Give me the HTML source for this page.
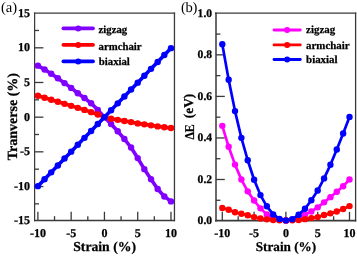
<!DOCTYPE html>
<html><head><meta charset="utf-8"><style>svg text{font-family:"Liberation Serif",serif;text-rendering:geometricPrecision;stroke:#000;stroke-width:0.25px}html,body{margin:0;padding:0;background:#fff}</style></head><body><svg width="357" height="257" viewBox="0 0 357 257" style="display:block;will-change:transform">
<rect width="357" height="257" fill="#fff"/>
<line x1="34.60" y1="12.55" x2="34.60" y2="221.25" stroke="#3a3a3a" stroke-width="1.25"/><line x1="174.45" y1="12.55" x2="174.45" y2="221.25" stroke="#3a3a3a" stroke-width="1.3"/><line x1="33.98" y1="13.20" x2="175.10" y2="13.20" stroke="#3a3a3a" stroke-width="1.3"/><line x1="33.98" y1="220.55" x2="175.10" y2="220.55" stroke="#3a3a3a" stroke-width="1.4"/><line x1="37.90" y1="220.55" x2="37.90" y2="211.75" stroke="#3a3a3a" stroke-width="1.3"/><line x1="71.17" y1="220.55" x2="71.17" y2="211.75" stroke="#3a3a3a" stroke-width="1.3"/><line x1="104.44" y1="220.55" x2="104.44" y2="211.75" stroke="#3a3a3a" stroke-width="1.3"/><line x1="137.71" y1="220.55" x2="137.71" y2="211.75" stroke="#3a3a3a" stroke-width="1.3"/><line x1="170.98" y1="220.55" x2="170.98" y2="211.75" stroke="#3a3a3a" stroke-width="1.3"/><line x1="54.53" y1="220.55" x2="54.53" y2="216.15" stroke="#3a3a3a" stroke-width="1.3"/><line x1="87.81" y1="220.55" x2="87.81" y2="216.15" stroke="#3a3a3a" stroke-width="1.3"/><line x1="121.07" y1="220.55" x2="121.07" y2="216.15" stroke="#3a3a3a" stroke-width="1.3"/><line x1="154.34" y1="220.55" x2="154.34" y2="216.15" stroke="#3a3a3a" stroke-width="1.3"/><line x1="34.60" y1="47.81" x2="43.40" y2="47.81" stroke="#3a3a3a" stroke-width="1.3"/><line x1="34.60" y1="82.48" x2="43.40" y2="82.48" stroke="#3a3a3a" stroke-width="1.3"/><line x1="34.60" y1="117.16" x2="43.40" y2="117.16" stroke="#3a3a3a" stroke-width="1.3"/><line x1="34.60" y1="151.83" x2="43.40" y2="151.83" stroke="#3a3a3a" stroke-width="1.3"/><line x1="34.60" y1="186.51" x2="43.40" y2="186.51" stroke="#3a3a3a" stroke-width="1.3"/><line x1="34.60" y1="30.47" x2="39.00" y2="30.47" stroke="#3a3a3a" stroke-width="1.3"/><line x1="34.60" y1="65.15" x2="39.00" y2="65.15" stroke="#3a3a3a" stroke-width="1.3"/><line x1="34.60" y1="99.82" x2="39.00" y2="99.82" stroke="#3a3a3a" stroke-width="1.3"/><line x1="34.60" y1="134.50" x2="39.00" y2="134.50" stroke="#3a3a3a" stroke-width="1.3"/><line x1="34.60" y1="169.17" x2="39.00" y2="169.17" stroke="#3a3a3a" stroke-width="1.3"/><line x1="34.60" y1="203.85" x2="39.00" y2="203.85" stroke="#3a3a3a" stroke-width="1.3"/>
<line x1="216.00" y1="12.55" x2="216.00" y2="221.50" stroke="#6a6a6a" stroke-width="2.0"/><line x1="355.60" y1="12.55" x2="355.60" y2="221.50" stroke="#3a3a3a" stroke-width="1.3"/><line x1="215.00" y1="13.20" x2="356.25" y2="13.20" stroke="#3a3a3a" stroke-width="1.3"/><line x1="215.00" y1="220.65" x2="356.25" y2="220.65" stroke="#3a3a3a" stroke-width="1.7"/><line x1="222.30" y1="220.65" x2="222.30" y2="211.85" stroke="#3a3a3a" stroke-width="1.3"/><line x1="254.10" y1="220.65" x2="254.10" y2="211.85" stroke="#3a3a3a" stroke-width="1.3"/><line x1="285.90" y1="220.65" x2="285.90" y2="211.85" stroke="#3a3a3a" stroke-width="1.3"/><line x1="317.70" y1="220.65" x2="317.70" y2="211.85" stroke="#3a3a3a" stroke-width="1.3"/><line x1="349.50" y1="220.65" x2="349.50" y2="211.85" stroke="#3a3a3a" stroke-width="1.3"/><line x1="238.20" y1="220.65" x2="238.20" y2="216.25" stroke="#3a3a3a" stroke-width="1.3"/><line x1="270.00" y1="220.65" x2="270.00" y2="216.25" stroke="#3a3a3a" stroke-width="1.3"/><line x1="301.80" y1="220.65" x2="301.80" y2="216.25" stroke="#3a3a3a" stroke-width="1.3"/><line x1="333.60" y1="220.65" x2="333.60" y2="216.25" stroke="#3a3a3a" stroke-width="1.3"/><line x1="216.00" y1="54.85" x2="224.80" y2="54.85" stroke="#3a3a3a" stroke-width="1.3"/><line x1="216.00" y1="96.40" x2="224.80" y2="96.40" stroke="#3a3a3a" stroke-width="1.3"/><line x1="216.00" y1="137.95" x2="224.80" y2="137.95" stroke="#3a3a3a" stroke-width="1.3"/><line x1="216.00" y1="179.50" x2="224.80" y2="179.50" stroke="#3a3a3a" stroke-width="1.3"/><line x1="216.00" y1="34.08" x2="220.40" y2="34.08" stroke="#3a3a3a" stroke-width="1.3"/><line x1="216.00" y1="75.63" x2="220.40" y2="75.63" stroke="#3a3a3a" stroke-width="1.3"/><line x1="216.00" y1="117.18" x2="220.40" y2="117.18" stroke="#3a3a3a" stroke-width="1.3"/><line x1="216.00" y1="158.73" x2="220.40" y2="158.73" stroke="#3a3a3a" stroke-width="1.3"/><line x1="216.00" y1="200.28" x2="220.40" y2="200.28" stroke="#3a3a3a" stroke-width="1.3"/>
<polyline points="37.90,65.63 44.55,69.45 51.21,73.75 57.86,78.19 64.52,83.11 71.17,87.89 77.82,93.23 84.48,98.02 91.13,103.29 97.79,109.88 104.44,117.16 111.09,123.96 117.75,131.31 124.40,139.01 131.06,147.54 137.71,158.08 144.36,169.17 151.02,179.16 157.67,189.01 164.33,196.43 170.98,201.42" fill="none" stroke="#8000ff" stroke-width="3.6" stroke-linejoin="round"/>
<circle cx="37.90" cy="65.63" r="3.2" fill="#8000ff"/><circle cx="44.55" cy="69.45" r="3.2" fill="#8000ff"/><circle cx="51.21" cy="73.75" r="3.2" fill="#8000ff"/><circle cx="57.86" cy="78.19" r="3.2" fill="#8000ff"/><circle cx="64.52" cy="83.11" r="3.2" fill="#8000ff"/><circle cx="71.17" cy="87.89" r="3.2" fill="#8000ff"/><circle cx="77.82" cy="93.23" r="3.2" fill="#8000ff"/><circle cx="84.48" cy="98.02" r="3.2" fill="#8000ff"/><circle cx="91.13" cy="103.29" r="3.2" fill="#8000ff"/><circle cx="97.79" cy="109.88" r="3.2" fill="#8000ff"/><circle cx="104.44" cy="117.16" r="3.2" fill="#8000ff"/><circle cx="111.09" cy="123.96" r="3.2" fill="#8000ff"/><circle cx="117.75" cy="131.31" r="3.2" fill="#8000ff"/><circle cx="124.40" cy="139.01" r="3.2" fill="#8000ff"/><circle cx="131.06" cy="147.54" r="3.2" fill="#8000ff"/><circle cx="137.71" cy="158.08" r="3.2" fill="#8000ff"/><circle cx="144.36" cy="169.17" r="3.2" fill="#8000ff"/><circle cx="151.02" cy="179.16" r="3.2" fill="#8000ff"/><circle cx="157.67" cy="189.01" r="3.2" fill="#8000ff"/><circle cx="164.33" cy="196.43" r="3.2" fill="#8000ff"/><circle cx="170.98" cy="201.42" r="3.2" fill="#8000ff"/>

<polyline points="37.90,95.73 44.55,97.74 51.21,99.75 57.86,101.76 64.52,103.84 71.17,105.86 77.82,107.87 84.48,109.88 91.13,112.17 97.79,114.52 104.44,117.16 111.09,118.69 117.75,119.86 124.40,121.04 131.06,122.08 137.71,123.40 144.36,124.37 151.02,125.34 157.67,126.38 164.33,127.22 170.98,127.98" fill="none" stroke="#ff0000" stroke-width="3.6" stroke-linejoin="round"/>
<circle cx="37.90" cy="95.73" r="3.2" fill="#ff0000"/><circle cx="44.55" cy="97.74" r="3.2" fill="#ff0000"/><circle cx="51.21" cy="99.75" r="3.2" fill="#ff0000"/><circle cx="57.86" cy="101.76" r="3.2" fill="#ff0000"/><circle cx="64.52" cy="103.84" r="3.2" fill="#ff0000"/><circle cx="71.17" cy="105.86" r="3.2" fill="#ff0000"/><circle cx="77.82" cy="107.87" r="3.2" fill="#ff0000"/><circle cx="84.48" cy="109.88" r="3.2" fill="#ff0000"/><circle cx="91.13" cy="112.17" r="3.2" fill="#ff0000"/><circle cx="97.79" cy="114.52" r="3.2" fill="#ff0000"/><circle cx="104.44" cy="117.16" r="3.2" fill="#ff0000"/><circle cx="111.09" cy="118.69" r="3.2" fill="#ff0000"/><circle cx="117.75" cy="119.86" r="3.2" fill="#ff0000"/><circle cx="124.40" cy="121.04" r="3.2" fill="#ff0000"/><circle cx="131.06" cy="122.08" r="3.2" fill="#ff0000"/><circle cx="137.71" cy="123.40" r="3.2" fill="#ff0000"/><circle cx="144.36" cy="124.37" r="3.2" fill="#ff0000"/><circle cx="151.02" cy="125.34" r="3.2" fill="#ff0000"/><circle cx="157.67" cy="126.38" r="3.2" fill="#ff0000"/><circle cx="164.33" cy="127.22" r="3.2" fill="#ff0000"/><circle cx="170.98" cy="127.98" r="3.2" fill="#ff0000"/>

<polyline points="37.90,186.16 44.55,179.26 51.21,172.36 57.86,165.46 64.52,158.56 71.17,151.66 77.82,144.76 84.48,137.86 91.13,130.96 97.79,124.06 104.44,117.16 111.09,110.26 117.75,103.36 124.40,96.46 131.06,89.56 137.71,82.66 144.36,75.76 151.02,68.86 157.67,61.96 164.33,55.06 170.98,48.16" fill="none" stroke="#0000ff" stroke-width="3.6" stroke-linejoin="round"/>
<circle cx="37.90" cy="186.16" r="3.2" fill="#0000ff"/><circle cx="44.55" cy="179.26" r="3.2" fill="#0000ff"/><circle cx="51.21" cy="172.36" r="3.2" fill="#0000ff"/><circle cx="57.86" cy="165.46" r="3.2" fill="#0000ff"/><circle cx="64.52" cy="158.56" r="3.2" fill="#0000ff"/><circle cx="71.17" cy="151.66" r="3.2" fill="#0000ff"/><circle cx="77.82" cy="144.76" r="3.2" fill="#0000ff"/><circle cx="84.48" cy="137.86" r="3.2" fill="#0000ff"/><circle cx="91.13" cy="130.96" r="3.2" fill="#0000ff"/><circle cx="97.79" cy="124.06" r="3.2" fill="#0000ff"/><circle cx="104.44" cy="117.16" r="3.2" fill="#0000ff"/><circle cx="111.09" cy="110.26" r="3.2" fill="#0000ff"/><circle cx="117.75" cy="103.36" r="3.2" fill="#0000ff"/><circle cx="124.40" cy="96.46" r="3.2" fill="#0000ff"/><circle cx="131.06" cy="89.56" r="3.2" fill="#0000ff"/><circle cx="137.71" cy="82.66" r="3.2" fill="#0000ff"/><circle cx="144.36" cy="75.76" r="3.2" fill="#0000ff"/><circle cx="151.02" cy="68.86" r="3.2" fill="#0000ff"/><circle cx="157.67" cy="61.96" r="3.2" fill="#0000ff"/><circle cx="164.33" cy="55.06" r="3.2" fill="#0000ff"/><circle cx="170.98" cy="48.16" r="3.2" fill="#0000ff"/>

<polyline points="222.30,125.83 228.66,146.77 235.02,164.61 241.38,179.54 247.74,191.36 254.10,200.49 260.46,208.37 266.82,214.39 273.18,217.70 279.54,219.78 285.90,220.40 292.26,219.78 298.62,217.91 304.98,214.80 311.34,211.48 317.70,207.33 324.06,202.36 330.42,197.17 336.78,191.78 343.14,186.18 349.50,179.54" fill="none" stroke="#ff00ff" stroke-width="2.7" stroke-linejoin="round"/>
<circle cx="222.30" cy="125.83" r="3.2" fill="#ff00ff"/><circle cx="228.66" cy="146.77" r="3.2" fill="#ff00ff"/><circle cx="235.02" cy="164.61" r="3.2" fill="#ff00ff"/><circle cx="241.38" cy="179.54" r="3.2" fill="#ff00ff"/><circle cx="247.74" cy="191.36" r="3.2" fill="#ff00ff"/><circle cx="254.10" cy="200.49" r="3.2" fill="#ff00ff"/><circle cx="260.46" cy="208.37" r="3.2" fill="#ff00ff"/><circle cx="266.82" cy="214.39" r="3.2" fill="#ff00ff"/><circle cx="273.18" cy="217.70" r="3.2" fill="#ff00ff"/><circle cx="279.54" cy="219.78" r="3.2" fill="#ff00ff"/><circle cx="285.90" cy="220.40" r="3.2" fill="#ff00ff"/><circle cx="292.26" cy="219.78" r="3.2" fill="#ff00ff"/><circle cx="298.62" cy="217.91" r="3.2" fill="#ff00ff"/><circle cx="304.98" cy="214.80" r="3.2" fill="#ff00ff"/><circle cx="311.34" cy="211.48" r="3.2" fill="#ff00ff"/><circle cx="317.70" cy="207.33" r="3.2" fill="#ff00ff"/><circle cx="324.06" cy="202.36" r="3.2" fill="#ff00ff"/><circle cx="330.42" cy="197.17" r="3.2" fill="#ff00ff"/><circle cx="336.78" cy="191.78" r="3.2" fill="#ff00ff"/><circle cx="343.14" cy="186.18" r="3.2" fill="#ff00ff"/><circle cx="349.50" cy="179.54" r="3.2" fill="#ff00ff"/>

<polyline points="222.30,207.96 228.66,209.82 235.02,212.31 241.38,213.76 247.74,215.22 254.10,217.08 260.46,218.53 266.82,219.36 273.18,219.99 279.54,220.30 285.90,220.40 292.26,220.30 298.62,220.09 304.98,219.16 311.34,218.12 317.70,217.08 324.06,215.01 330.42,213.35 336.78,211.48 343.14,208.99 349.50,206.09" fill="none" stroke="#ff0000" stroke-width="2.7" stroke-linejoin="round"/>
<circle cx="222.30" cy="207.96" r="3.2" fill="#ff0000"/><circle cx="228.66" cy="209.82" r="3.2" fill="#ff0000"/><circle cx="235.02" cy="212.31" r="3.2" fill="#ff0000"/><circle cx="241.38" cy="213.76" r="3.2" fill="#ff0000"/><circle cx="247.74" cy="215.22" r="3.2" fill="#ff0000"/><circle cx="254.10" cy="217.08" r="3.2" fill="#ff0000"/><circle cx="260.46" cy="218.53" r="3.2" fill="#ff0000"/><circle cx="266.82" cy="219.36" r="3.2" fill="#ff0000"/><circle cx="273.18" cy="219.99" r="3.2" fill="#ff0000"/><circle cx="279.54" cy="220.30" r="3.2" fill="#ff0000"/><circle cx="285.90" cy="220.40" r="3.2" fill="#ff0000"/><circle cx="292.26" cy="220.30" r="3.2" fill="#ff0000"/><circle cx="298.62" cy="220.09" r="3.2" fill="#ff0000"/><circle cx="304.98" cy="219.16" r="3.2" fill="#ff0000"/><circle cx="311.34" cy="218.12" r="3.2" fill="#ff0000"/><circle cx="317.70" cy="217.08" r="3.2" fill="#ff0000"/><circle cx="324.06" cy="215.01" r="3.2" fill="#ff0000"/><circle cx="330.42" cy="213.35" r="3.2" fill="#ff0000"/><circle cx="336.78" cy="211.48" r="3.2" fill="#ff0000"/><circle cx="343.14" cy="208.99" r="3.2" fill="#ff0000"/><circle cx="349.50" cy="206.09" r="3.2" fill="#ff0000"/>

<polyline points="222.30,44.32 228.66,79.78 235.02,111.10 241.38,137.85 247.74,160.25 254.10,179.75 260.46,195.10 266.82,206.30 273.18,214.39 279.54,218.89 285.90,220.40 292.26,219.16 298.62,214.80 304.98,208.79 311.34,200.28 317.70,190.53 324.06,178.40 330.42,164.82 336.78,149.47 343.14,133.50 349.50,116.91" fill="none" stroke="#0000ff" stroke-width="2.7" stroke-linejoin="round"/>
<circle cx="222.30" cy="44.32" r="3.2" fill="#0000ff"/><circle cx="228.66" cy="79.78" r="3.2" fill="#0000ff"/><circle cx="235.02" cy="111.10" r="3.2" fill="#0000ff"/><circle cx="241.38" cy="137.85" r="3.2" fill="#0000ff"/><circle cx="247.74" cy="160.25" r="3.2" fill="#0000ff"/><circle cx="254.10" cy="179.75" r="3.2" fill="#0000ff"/><circle cx="260.46" cy="195.10" r="3.2" fill="#0000ff"/><circle cx="266.82" cy="206.30" r="3.2" fill="#0000ff"/><circle cx="273.18" cy="214.39" r="3.2" fill="#0000ff"/><circle cx="279.54" cy="218.89" r="3.2" fill="#0000ff"/><circle cx="285.90" cy="220.40" r="3.2" fill="#0000ff"/><circle cx="292.26" cy="219.16" r="3.2" fill="#0000ff"/><circle cx="298.62" cy="214.80" r="3.2" fill="#0000ff"/><circle cx="304.98" cy="208.79" r="3.2" fill="#0000ff"/><circle cx="311.34" cy="200.28" r="3.2" fill="#0000ff"/><circle cx="317.70" cy="190.53" r="3.2" fill="#0000ff"/><circle cx="324.06" cy="178.40" r="3.2" fill="#0000ff"/><circle cx="330.42" cy="164.82" r="3.2" fill="#0000ff"/><circle cx="336.78" cy="149.47" r="3.2" fill="#0000ff"/><circle cx="343.14" cy="133.50" r="3.2" fill="#0000ff"/><circle cx="349.50" cy="116.91" r="3.2" fill="#0000ff"/>

<text x="30.10" y="16.64" font-size="12" font-weight="bold" text-anchor="end" fill="#000" >15</text>
<text x="30.10" y="51.31" font-size="12" font-weight="bold" text-anchor="end" fill="#000" >10</text>
<text x="30.10" y="85.98" font-size="12" font-weight="bold" text-anchor="end" fill="#000" >5</text>
<text x="30.10" y="120.66" font-size="12" font-weight="bold" text-anchor="end" fill="#000" >0</text>
<text x="30.10" y="155.33" font-size="12" font-weight="bold" text-anchor="end" fill="#000" >-5</text>
<text x="30.10" y="190.01" font-size="12" font-weight="bold" text-anchor="end" fill="#000" >-10</text>
<text x="30.10" y="223.70" font-size="12" font-weight="bold" text-anchor="end" fill="#000" >-15</text>
<text x="37.90" y="236.80" font-size="12" font-weight="bold" text-anchor="middle" fill="#000" >-10</text>
<text x="71.17" y="236.80" font-size="12" font-weight="bold" text-anchor="middle" fill="#000" >-5</text>
<text x="104.44" y="236.80" font-size="12" font-weight="bold" text-anchor="middle" fill="#000" >0</text>
<text x="137.71" y="236.80" font-size="12" font-weight="bold" text-anchor="middle" fill="#000" >5</text>
<text x="170.98" y="236.80" font-size="12" font-weight="bold" text-anchor="middle" fill="#000" >10</text>
<text x="104.60" y="250.60" font-size="13.7" font-weight="bold" text-anchor="middle" fill="#000" >Strain (%)</text>
<text x="17.00" y="116.60" font-size="14" font-weight="bold" text-anchor="middle" fill="#000" transform="rotate(-90 17.0 116.6)">Tranverse (%)</text>
<text x="0.90" y="11.60" font-size="14.6" font-weight="normal" text-anchor="start" fill="#000" style="stroke:none" textLength="16.2">(a)</text>
<text x="212.10" y="16.75" font-size="11.6" font-weight="bold" text-anchor="end" fill="#000" >1.0</text>
<text x="212.10" y="58.30" font-size="11.6" font-weight="bold" text-anchor="end" fill="#000" >0.8</text>
<text x="212.10" y="99.85" font-size="11.6" font-weight="bold" text-anchor="end" fill="#000" >0.6</text>
<text x="212.10" y="141.40" font-size="11.6" font-weight="bold" text-anchor="end" fill="#000" >0.4</text>
<text x="212.10" y="182.95" font-size="11.6" font-weight="bold" text-anchor="end" fill="#000" >0.2</text>
<text x="212.10" y="224.20" font-size="11.6" font-weight="bold" text-anchor="end" fill="#000" >0.0</text>
<text x="222.30" y="236.80" font-size="12" font-weight="bold" text-anchor="middle" fill="#000" >-10</text>
<text x="254.10" y="236.80" font-size="12" font-weight="bold" text-anchor="middle" fill="#000" >-5</text>
<text x="285.90" y="236.80" font-size="12" font-weight="bold" text-anchor="middle" fill="#000" >0</text>
<text x="317.70" y="236.80" font-size="12" font-weight="bold" text-anchor="middle" fill="#000" >5</text>
<text x="349.50" y="236.80" font-size="12" font-weight="bold" text-anchor="middle" fill="#000" >10</text>
<text x="285.95" y="250.50" font-size="13.2" font-weight="bold" text-anchor="middle" fill="#000" >Strain (%)</text>
<text x="193.90" y="139.60" font-size="13.5" font-weight="bold" text-anchor="start" fill="#000" transform="rotate(-90 193.9 139.6)" textLength="15.3" lengthAdjust="spacingAndGlyphs">ΔE</text>
<text x="193.30" y="118.20" font-size="13.5" font-weight="bold" text-anchor="start" fill="#000" transform="rotate(-90 193.3 118.2)" textLength="24.4" lengthAdjust="spacingAndGlyphs">(eV)</text>
<text x="181.00" y="11.60" font-size="14.6" font-weight="normal" text-anchor="start" fill="#000" style="stroke:none" textLength="16.4">(b)</text>
<line x1="63.3" x2="93.1" y1="28.4" y2="28.4" stroke="#8000ff" stroke-width="3.6" stroke-linecap="round"/><circle cx="78.19999999999999" cy="28.4" r="3.0" fill="#8000ff"/><text x="98.60" y="32.60" font-size="10.75" font-weight="bold" text-anchor="start" fill="#000" >zigzag</text>
<line x1="63.3" x2="93.1" y1="44.9" y2="44.9" stroke="#ff0000" stroke-width="3.6" stroke-linecap="round"/><circle cx="78.19999999999999" cy="44.9" r="3.0" fill="#ff0000"/><text x="98.60" y="49.50" font-size="10.75" font-weight="bold" text-anchor="start" fill="#000" >armchair</text>
<line x1="63.3" x2="93.1" y1="61.4" y2="61.4" stroke="#0000ff" stroke-width="3.6" stroke-linecap="round"/><circle cx="78.19999999999999" cy="61.4" r="3.0" fill="#0000ff"/><text x="98.80" y="65.20" font-size="10.75" font-weight="bold" text-anchor="start" fill="#000" >biaxial</text>
<line x1="274.0" x2="300.3" y1="30.0" y2="30.0" stroke="#ff00ff" stroke-width="2.8" stroke-linecap="round"/><circle cx="287.15" cy="30.0" r="3.0" fill="#ff00ff"/><text x="306.10" y="33.10" font-size="10.9" font-weight="bold" text-anchor="start" fill="#000" >zigzag</text>
<line x1="274.0" x2="300.3" y1="44.9" y2="44.9" stroke="#ff0000" stroke-width="2.8" stroke-linecap="round"/><circle cx="287.15" cy="44.9" r="3.0" fill="#ff0000"/><text x="306.10" y="48.60" font-size="10.9" font-weight="bold" text-anchor="start" fill="#000" >armchair</text>
<line x1="274.0" x2="300.3" y1="59.5" y2="59.5" stroke="#0000ff" stroke-width="2.8" stroke-linecap="round"/><circle cx="287.15" cy="59.5" r="3.0" fill="#0000ff"/><text x="306.10" y="63.45" font-size="10.9" font-weight="bold" text-anchor="start" fill="#000" >biaxial</text>
</svg></body></html>
